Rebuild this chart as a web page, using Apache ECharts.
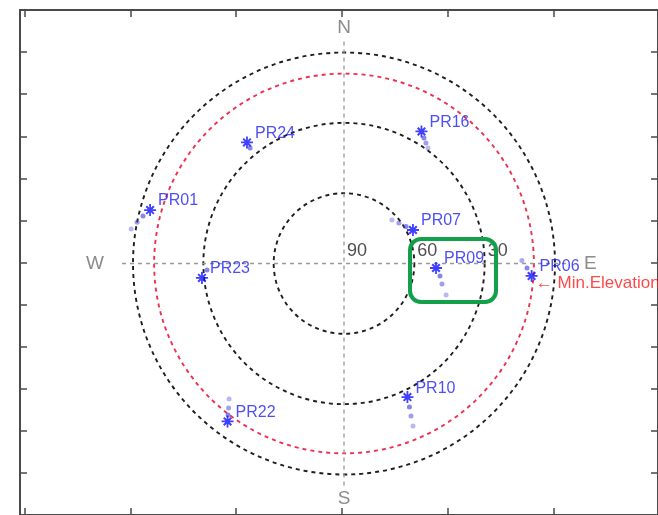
<!DOCTYPE html>
<html>
<head>
<meta charset="utf-8">
<script src="https://cdn.jsdelivr.net/npm/echarts@6/dist/echarts.min.js"></script>
<style>
  html, body { margin: 0; padding: 0; background: #ffffff; }
  #chart { width: 658px; height: 515px; }
</style>
</head>
<body>
<div id="chart"></div>
<script>
// Satellites, current position: elevation (deg) and azimuth (deg, clockwise from north)
const satNames     = ['PR24', 'PR01', 'PR23', 'PR16', 'PR07', 'PR09', 'PR06', 'PR10', 'PR22'];
const satElevation = [23.8, 4.2, 29.1, 24.7, 57.3, 50.7, 9.8, 26.9, 6.3];
const satAzimuth   = [321.3, 285.4, 264.2, 30.4, 64.1, 92.8, 93.8, 154.6, 216.4];

// Recent track of each satellite, oldest point first (same order as satNames)
const trackElevation = [
  [26.5],
  [-2.0, 0.0, 1.9],
  [31.5],
  [29.1, 27.8, 26.5],
  [62.4, 60.9, 59.2],
  [44.4, 47.3, 48.7],
  [14.1, 11.9],
  [14.7, 18.9, 22.7],
  [14.2, 11.1, 8.6]
];
const trackAzimuth = [
  [320.9],
  [279.2, 281.3, 283.3],
  [267.3],
  [36.0, 34.2, 32.5],
  [47.8, 53.6, 59.2],
  [107.2, 101.8, 97.4],
  [89.0, 91.4],
  [157.0, 156.3, 155.5],
  [220.3, 218.6, 217.4]
];

// Elevation rings and the elevation mask
const ringElevations  = [60, 30, 0];
const minElevation    = 9;
const elevationLabels = [90, 60, 30];   // printed along the east direction

// Compass directions
const compassAngles = [0, 90, 180, 270];
const compassLabels = ['N', 'E', 'S', 'W'];

// Frame tick values (unlabelled box around the plot)
const frameXTicks = [-1.5, -1, -0.5, 0, 0.5, 1];
const frameYTicks = [-1, -0.8, -0.6, -0.4, -0.2, 0, 0.2, 0.4, 0.6, 0.8, 1];

// ---------------------------------------------------------------------------
const FONT = 'Liberation Sans, Arial, sans-serif';
const BLUE = '#2222f4';
const FRAME = '#4a4a4a';

// asterisk marker built from four thin bars
const STAR = 'path://M-1.2,-8L1.2,-8L1.2,8L-1.2,8Z M-8,-1.2L8,-1.2L8,1.2L-8,1.2Z ' +
             'M-6,-4.1L-4.1,-6L6,4.1L4.1,6Z ' +
             'M-4.1,6L-6,4.1L4.1,-6L6,-4.1Z';

const ringValues = ringElevations.slice(0, 2).concat([minElevation, ringElevations[2]]);
const ringColors = ['#1e1e1e', '#1e1e1e', '#ee3050', '#1e1e1e'];

const trackData = [];
trackElevation.forEach((els, i) => {
  els.forEach((el, j) => {
    trackData.push({
      value: [el, trackAzimuth[i][j]],
      itemStyle: { opacity: 0.25 + 0.4 * (j + 1) / els.length }
    });
  });
});

const starData = satNames.map((name, i) => ({ name: name, value: [satElevation[i], satAzimuth[i]] }));
const elevLabelData = elevationLabels.map(v => ({ name: String(v), value: [v, 90] }));

function frameAxis(position, min, max, ticks) {
  return {
    type: 'value', position: position, min: min, max: max,
    axisLine: { show: true, onZero: false, lineStyle: { color: FRAME, width: 2 } },
    axisTick: { show: true, inside: true, length: 7, customValues: ticks,
                lineStyle: { color: FRAME, width: 1.5 } },
    axisLabel: { show: false },
    splitLine: { show: false }
  };
}

const chart = echarts.init(document.getElementById('chart'), null, { renderer: 'canvas' });
chart.setOption({
  animation: false,
  backgroundColor: '#ffffff',
  grid: { left: 20, top: 10, width: 642, height: 506.4, show: false },
  xAxis: [
    frameAxis('bottom', -1.5211, 1.4930, frameXTicks),
    frameAxis('top', -1.5211, 1.4930, frameXTicks)
  ],
  yAxis: [
    frameAxis('left', -1.2, 1.2, frameYTicks),
    frameAxis('right', -1.2, 1.2, frameYTicks)
  ],
  polar: { center: [344, 263.5], radius: 222 },
  angleAxis: {
    type: 'value', min: 0, max: 360, startAngle: 90, clockwise: true,
    axisLine: { show: false },
    axisTick: { show: false, customValues: compassAngles },
    axisLabel: {
      show: true, customValues: compassAngles, margin: 4,
      formatter: v => {
        const t = compassLabels[compassAngles.indexOf(v)] || '';
        return (t === 'E' || t === 'W') ? '{ew|' + t + '}' : '{ns|' + t + '}';
      },
      rich: {
        ns: { color: '#8c8c8c', fontSize: 19, fontFamily: FONT },
        ew: { color: '#8c8c8c', fontSize: 19, fontFamily: FONT, padding: [0, 14] }
      }
    },
    splitLine: { show: true, lineStyle: { color: '#999999', type: [4, 4], width: 1.3 } }
  },
  radiusAxis: {
    type: 'value', min: -4.7, max: 90, inverse: true,
    axisLine: { show: false },
    axisTick: { show: false, customValues: ringValues },
    axisLabel: { show: false },
    splitLine: { show: true, lineStyle: { color: ringColors, type: [4, 4], width: 1.9 } }
  },
  series: [
    {
      type: 'scatter', coordinateSystem: 'polar', symbol: 'circle', symbolSize: 5,
      itemStyle: { color: '#4646dc' },
      data: trackData, z: 3
    },
    {
      type: 'scatter', coordinateSystem: 'polar', symbol: STAR, symbolSize: 12,
      itemStyle: { color: '#1010ff' },
      label: {
        show: true, formatter: '{b}', position: 'right', distance: 2, offset: [0, -9],
        color: BLUE, fontSize: 16, fontFamily: FONT
      },
      data: starData, z: 4
    },
    {
      type: 'scatter', coordinateSystem: 'polar', symbolSize: 0,
      label: {
        show: true, formatter: '{b}', position: 'right', distance: 3, offset: [0, -12],
        color: '#222222', fontSize: 18, fontFamily: FONT
      },
      data: elevLabelData, z: 4
    },
    {
      // annotation of the elevation mask ring
      type: 'scatter', coordinateSystem: 'polar', symbolSize: 0,
      label: {
        show: true, formatter: '\u2190 Min.Elevation', position: 'right', distance: 3,
        color: '#ff1a1a', fontSize: 17, fontFamily: FONT
      },
      data: [{ name: 'mask', value: [minElevation, 96] }], z: 4
    }
  ],
  graphic: [
    {
      type: 'rect', z: 100,
      shape: { x: 410, y: 239, width: 86, height: 63, r: 11 },
      style: { fill: 'none', stroke: '#12a04a', lineWidth: 4 }
    }
  ]
});
</script>
</body>
</html>
